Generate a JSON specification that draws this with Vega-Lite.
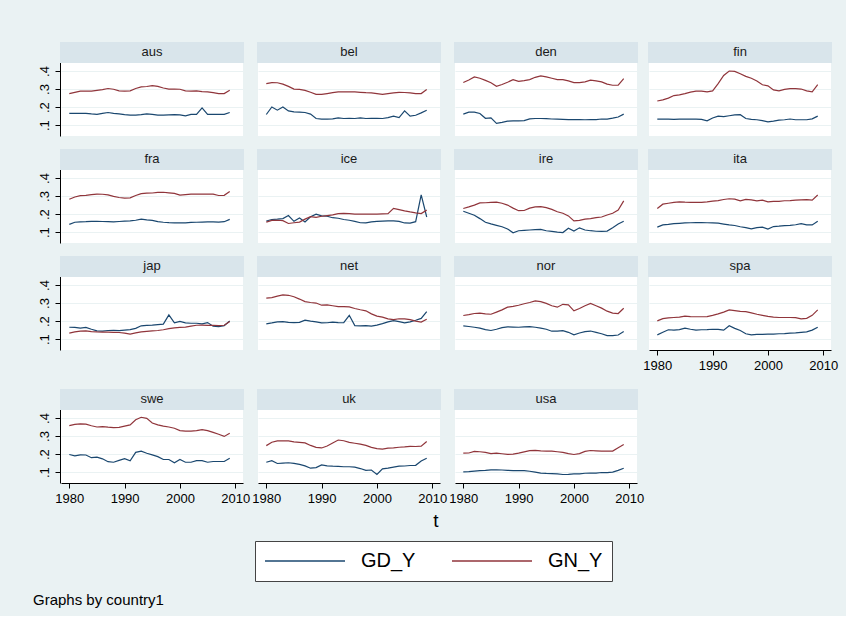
{
  "$schema": "https://vega.github.io/schema/vega-lite/v6.json",
  "background": "#EAF2F3",
  "padding": {"left": 33, "top": 42, "right": 8, "bottom": 8},
  "title": {"text": "Graphs by country1", "orient": "bottom", "anchor": "start", "fontSize": 15, "fontWeight": "normal", "font": "Liberation Sans", "color": "#000", "offset": 11, "dx": -5},
  "data": {"values": [
{"c":"aus","t":1980,"GD_Y":0.165,"GN_Y":0.275},{"c":"aus","t":1981,"GD_Y":0.165,"GN_Y":0.282},{"c":"aus","t":1982,"GD_Y":0.165,"GN_Y":0.288},{"c":"aus","t":1983,"GD_Y":0.165,"GN_Y":0.288},{"c":"aus","t":1984,"GD_Y":0.162,"GN_Y":0.288},{"c":"aus","t":1985,"GD_Y":0.16,"GN_Y":0.293},{"c":"aus","t":1986,"GD_Y":0.165,"GN_Y":0.297},{"c":"aus","t":1987,"GD_Y":0.17,"GN_Y":0.303},{"c":"aus","t":1988,"GD_Y":0.165,"GN_Y":0.299},{"c":"aus","t":1989,"GD_Y":0.162,"GN_Y":0.29},{"c":"aus","t":1990,"GD_Y":0.158,"GN_Y":0.288},{"c":"aus","t":1991,"GD_Y":0.156,"GN_Y":0.29},{"c":"aus","t":1992,"GD_Y":0.156,"GN_Y":0.303},{"c":"aus","t":1993,"GD_Y":0.158,"GN_Y":0.312},{"c":"aus","t":1994,"GD_Y":0.163,"GN_Y":0.314},{"c":"aus","t":1995,"GD_Y":0.16,"GN_Y":0.319},{"c":"aus","t":1996,"GD_Y":0.156,"GN_Y":0.315},{"c":"aus","t":1997,"GD_Y":0.156,"GN_Y":0.306},{"c":"aus","t":1998,"GD_Y":0.157,"GN_Y":0.3},{"c":"aus","t":1999,"GD_Y":0.158,"GN_Y":0.3},{"c":"aus","t":2000,"GD_Y":0.157,"GN_Y":0.299},{"c":"aus","t":2001,"GD_Y":0.152,"GN_Y":0.29},{"c":"aus","t":2002,"GD_Y":0.16,"GN_Y":0.288},{"c":"aus","t":2003,"GD_Y":0.16,"GN_Y":0.29},{"c":"aus","t":2004,"GD_Y":0.196,"GN_Y":0.286},{"c":"aus","t":2005,"GD_Y":0.16,"GN_Y":0.284},{"c":"aus","t":2006,"GD_Y":0.16,"GN_Y":0.28},{"c":"aus","t":2007,"GD_Y":0.16,"GN_Y":0.275},{"c":"aus","t":2008,"GD_Y":0.16,"GN_Y":0.275},{"c":"aus","t":2009,"GD_Y":0.17,"GN_Y":0.293},
{"c":"bel","t":1980,"GD_Y":0.159,"GN_Y":0.33},{"c":"bel","t":1981,"GD_Y":0.201,"GN_Y":0.336},{"c":"bel","t":1982,"GD_Y":0.183,"GN_Y":0.335},{"c":"bel","t":1983,"GD_Y":0.201,"GN_Y":0.327},{"c":"bel","t":1984,"GD_Y":0.179,"GN_Y":0.315},{"c":"bel","t":1985,"GD_Y":0.174,"GN_Y":0.3},{"c":"bel","t":1986,"GD_Y":0.172,"GN_Y":0.298},{"c":"bel","t":1987,"GD_Y":0.17,"GN_Y":0.293},{"c":"bel","t":1988,"GD_Y":0.161,"GN_Y":0.282},{"c":"bel","t":1989,"GD_Y":0.137,"GN_Y":0.271},{"c":"bel","t":1990,"GD_Y":0.133,"GN_Y":0.27},{"c":"bel","t":1991,"GD_Y":0.133,"GN_Y":0.275},{"c":"bel","t":1992,"GD_Y":0.135,"GN_Y":0.28},{"c":"bel","t":1993,"GD_Y":0.14,"GN_Y":0.284},{"c":"bel","t":1994,"GD_Y":0.137,"GN_Y":0.284},{"c":"bel","t":1995,"GD_Y":0.138,"GN_Y":0.284},{"c":"bel","t":1996,"GD_Y":0.137,"GN_Y":0.284},{"c":"bel","t":1997,"GD_Y":0.14,"GN_Y":0.282},{"c":"bel","t":1998,"GD_Y":0.137,"GN_Y":0.28},{"c":"bel","t":1999,"GD_Y":0.138,"GN_Y":0.279},{"c":"bel","t":2000,"GD_Y":0.138,"GN_Y":0.275},{"c":"bel","t":2001,"GD_Y":0.137,"GN_Y":0.271},{"c":"bel","t":2002,"GD_Y":0.142,"GN_Y":0.275},{"c":"bel","t":2003,"GD_Y":0.15,"GN_Y":0.279},{"c":"bel","t":2004,"GD_Y":0.142,"GN_Y":0.282},{"c":"bel","t":2005,"GD_Y":0.179,"GN_Y":0.281},{"c":"bel","t":2006,"GD_Y":0.15,"GN_Y":0.279},{"c":"bel","t":2007,"GD_Y":0.155,"GN_Y":0.275},{"c":"bel","t":2008,"GD_Y":0.168,"GN_Y":0.275},{"c":"bel","t":2009,"GD_Y":0.183,"GN_Y":0.297},
{"c":"den","t":1980,"GD_Y":0.161,"GN_Y":0.336},{"c":"den","t":1981,"GD_Y":0.172,"GN_Y":0.35},{"c":"den","t":1982,"GD_Y":0.172,"GN_Y":0.367},{"c":"den","t":1983,"GD_Y":0.165,"GN_Y":0.36},{"c":"den","t":1984,"GD_Y":0.138,"GN_Y":0.348},{"c":"den","t":1985,"GD_Y":0.14,"GN_Y":0.335},{"c":"den","t":1986,"GD_Y":0.11,"GN_Y":0.315},{"c":"den","t":1987,"GD_Y":0.115,"GN_Y":0.325},{"c":"den","t":1988,"GD_Y":0.122,"GN_Y":0.338},{"c":"den","t":1989,"GD_Y":0.124,"GN_Y":0.352},{"c":"den","t":1990,"GD_Y":0.124,"GN_Y":0.343},{"c":"den","t":1991,"GD_Y":0.125,"GN_Y":0.347},{"c":"den","t":1992,"GD_Y":0.135,"GN_Y":0.352},{"c":"den","t":1993,"GD_Y":0.137,"GN_Y":0.365},{"c":"den","t":1994,"GD_Y":0.137,"GN_Y":0.373},{"c":"den","t":1995,"GD_Y":0.136,"GN_Y":0.367},{"c":"den","t":1996,"GD_Y":0.134,"GN_Y":0.36},{"c":"den","t":1997,"GD_Y":0.133,"GN_Y":0.352},{"c":"den","t":1998,"GD_Y":0.132,"GN_Y":0.352},{"c":"den","t":1999,"GD_Y":0.131,"GN_Y":0.345},{"c":"den","t":2000,"GD_Y":0.131,"GN_Y":0.336},{"c":"den","t":2001,"GD_Y":0.131,"GN_Y":0.336},{"c":"den","t":2002,"GD_Y":0.13,"GN_Y":0.34},{"c":"den","t":2003,"GD_Y":0.131,"GN_Y":0.349},{"c":"den","t":2004,"GD_Y":0.131,"GN_Y":0.345},{"c":"den","t":2005,"GD_Y":0.134,"GN_Y":0.34},{"c":"den","t":2006,"GD_Y":0.134,"GN_Y":0.327},{"c":"den","t":2007,"GD_Y":0.139,"GN_Y":0.321},{"c":"den","t":2008,"GD_Y":0.145,"GN_Y":0.321},{"c":"den","t":2009,"GD_Y":0.161,"GN_Y":0.358},
{"c":"fin","t":1980,"GD_Y":0.133,"GN_Y":0.234},{"c":"fin","t":1981,"GD_Y":0.133,"GN_Y":0.24},{"c":"fin","t":1982,"GD_Y":0.133,"GN_Y":0.25},{"c":"fin","t":1983,"GD_Y":0.132,"GN_Y":0.264},{"c":"fin","t":1984,"GD_Y":0.133,"GN_Y":0.268},{"c":"fin","t":1985,"GD_Y":0.133,"GN_Y":0.275},{"c":"fin","t":1986,"GD_Y":0.133,"GN_Y":0.283},{"c":"fin","t":1987,"GD_Y":0.133,"GN_Y":0.288},{"c":"fin","t":1988,"GD_Y":0.132,"GN_Y":0.288},{"c":"fin","t":1989,"GD_Y":0.124,"GN_Y":0.284},{"c":"fin","t":1990,"GD_Y":0.14,"GN_Y":0.29},{"c":"fin","t":1991,"GD_Y":0.15,"GN_Y":0.33},{"c":"fin","t":1992,"GD_Y":0.147,"GN_Y":0.375},{"c":"fin","t":1993,"GD_Y":0.152,"GN_Y":0.4},{"c":"fin","t":1994,"GD_Y":0.157,"GN_Y":0.398},{"c":"fin","t":1995,"GD_Y":0.158,"GN_Y":0.385},{"c":"fin","t":1996,"GD_Y":0.137,"GN_Y":0.37},{"c":"fin","t":1997,"GD_Y":0.132,"GN_Y":0.36},{"c":"fin","t":1998,"GD_Y":0.13,"GN_Y":0.345},{"c":"fin","t":1999,"GD_Y":0.125,"GN_Y":0.324},{"c":"fin","t":2000,"GD_Y":0.118,"GN_Y":0.318},{"c":"fin","t":2001,"GD_Y":0.122,"GN_Y":0.295},{"c":"fin","t":2002,"GD_Y":0.128,"GN_Y":0.29},{"c":"fin","t":2003,"GD_Y":0.13,"GN_Y":0.298},{"c":"fin","t":2004,"GD_Y":0.134,"GN_Y":0.302},{"c":"fin","t":2005,"GD_Y":0.13,"GN_Y":0.302},{"c":"fin","t":2006,"GD_Y":0.13,"GN_Y":0.3},{"c":"fin","t":2007,"GD_Y":0.13,"GN_Y":0.29},{"c":"fin","t":2008,"GD_Y":0.135,"GN_Y":0.285},{"c":"fin","t":2009,"GD_Y":0.15,"GN_Y":0.325},
{"c":"fra","t":1980,"GD_Y":0.143,"GN_Y":0.282},{"c":"fra","t":1981,"GD_Y":0.155,"GN_Y":0.295},{"c":"fra","t":1982,"GD_Y":0.157,"GN_Y":0.302},{"c":"fra","t":1983,"GD_Y":0.158,"GN_Y":0.304},{"c":"fra","t":1984,"GD_Y":0.16,"GN_Y":0.308},{"c":"fra","t":1985,"GD_Y":0.16,"GN_Y":0.311},{"c":"fra","t":1986,"GD_Y":0.159,"GN_Y":0.31},{"c":"fra","t":1987,"GD_Y":0.158,"GN_Y":0.306},{"c":"fra","t":1988,"GD_Y":0.157,"GN_Y":0.298},{"c":"fra","t":1989,"GD_Y":0.159,"GN_Y":0.292},{"c":"fra","t":1990,"GD_Y":0.161,"GN_Y":0.288},{"c":"fra","t":1991,"GD_Y":0.163,"GN_Y":0.29},{"c":"fra","t":1992,"GD_Y":0.166,"GN_Y":0.303},{"c":"fra","t":1993,"GD_Y":0.172,"GN_Y":0.313},{"c":"fra","t":1994,"GD_Y":0.168,"GN_Y":0.316},{"c":"fra","t":1995,"GD_Y":0.165,"GN_Y":0.317},{"c":"fra","t":1996,"GD_Y":0.158,"GN_Y":0.32},{"c":"fra","t":1997,"GD_Y":0.155,"GN_Y":0.321},{"c":"fra","t":1998,"GD_Y":0.153,"GN_Y":0.318},{"c":"fra","t":1999,"GD_Y":0.152,"GN_Y":0.315},{"c":"fra","t":2000,"GD_Y":0.152,"GN_Y":0.305},{"c":"fra","t":2001,"GD_Y":0.152,"GN_Y":0.308},{"c":"fra","t":2002,"GD_Y":0.154,"GN_Y":0.311},{"c":"fra","t":2003,"GD_Y":0.155,"GN_Y":0.311},{"c":"fra","t":2004,"GD_Y":0.156,"GN_Y":0.311},{"c":"fra","t":2005,"GD_Y":0.157,"GN_Y":0.311},{"c":"fra","t":2006,"GD_Y":0.157,"GN_Y":0.311},{"c":"fra","t":2007,"GD_Y":0.156,"GN_Y":0.303},{"c":"fra","t":2008,"GD_Y":0.158,"GN_Y":0.304},{"c":"fra","t":2009,"GD_Y":0.171,"GN_Y":0.325},
{"c":"ice","t":1980,"GD_Y":0.162,"GN_Y":0.156},{"c":"ice","t":1981,"GD_Y":0.17,"GN_Y":0.165},{"c":"ice","t":1982,"GD_Y":0.172,"GN_Y":0.166},{"c":"ice","t":1983,"GD_Y":0.175,"GN_Y":0.164},{"c":"ice","t":1984,"GD_Y":0.192,"GN_Y":0.148},{"c":"ice","t":1985,"GD_Y":0.16,"GN_Y":0.152},{"c":"ice","t":1986,"GD_Y":0.178,"GN_Y":0.156},{"c":"ice","t":1987,"GD_Y":0.156,"GN_Y":0.172},{"c":"ice","t":1988,"GD_Y":0.185,"GN_Y":0.186},{"c":"ice","t":1989,"GD_Y":0.2,"GN_Y":0.182},{"c":"ice","t":1990,"GD_Y":0.19,"GN_Y":0.188},{"c":"ice","t":1991,"GD_Y":0.188,"GN_Y":0.192},{"c":"ice","t":1992,"GD_Y":0.18,"GN_Y":0.196},{"c":"ice","t":1993,"GD_Y":0.177,"GN_Y":0.203},{"c":"ice","t":1994,"GD_Y":0.17,"GN_Y":0.204},{"c":"ice","t":1995,"GD_Y":0.166,"GN_Y":0.203},{"c":"ice","t":1996,"GD_Y":0.16,"GN_Y":0.2},{"c":"ice","t":1997,"GD_Y":0.152,"GN_Y":0.2},{"c":"ice","t":1998,"GD_Y":0.151,"GN_Y":0.2},{"c":"ice","t":1999,"GD_Y":0.157,"GN_Y":0.2},{"c":"ice","t":2000,"GD_Y":0.16,"GN_Y":0.2},{"c":"ice","t":2001,"GD_Y":0.161,"GN_Y":0.201},{"c":"ice","t":2002,"GD_Y":0.162,"GN_Y":0.202},{"c":"ice","t":2003,"GD_Y":0.162,"GN_Y":0.232},{"c":"ice","t":2004,"GD_Y":0.16,"GN_Y":0.225},{"c":"ice","t":2005,"GD_Y":0.151,"GN_Y":0.218},{"c":"ice","t":2006,"GD_Y":0.15,"GN_Y":0.212},{"c":"ice","t":2007,"GD_Y":0.158,"GN_Y":0.207},{"c":"ice","t":2008,"GD_Y":0.306,"GN_Y":0.203},{"c":"ice","t":2009,"GD_Y":0.184,"GN_Y":0.222},
{"c":"ire","t":1980,"GD_Y":0.216,"GN_Y":0.231},{"c":"ire","t":1981,"GD_Y":0.205,"GN_Y":0.24},{"c":"ire","t":1982,"GD_Y":0.194,"GN_Y":0.25},{"c":"ire","t":1983,"GD_Y":0.175,"GN_Y":0.262},{"c":"ire","t":1984,"GD_Y":0.155,"GN_Y":0.263},{"c":"ire","t":1985,"GD_Y":0.146,"GN_Y":0.265},{"c":"ire","t":1986,"GD_Y":0.138,"GN_Y":0.266},{"c":"ire","t":1987,"GD_Y":0.13,"GN_Y":0.26},{"c":"ire","t":1988,"GD_Y":0.118,"GN_Y":0.25},{"c":"ire","t":1989,"GD_Y":0.097,"GN_Y":0.233},{"c":"ire","t":1990,"GD_Y":0.108,"GN_Y":0.219},{"c":"ire","t":1991,"GD_Y":0.11,"GN_Y":0.22},{"c":"ire","t":1992,"GD_Y":0.112,"GN_Y":0.233},{"c":"ire","t":1993,"GD_Y":0.114,"GN_Y":0.24},{"c":"ire","t":1994,"GD_Y":0.115,"GN_Y":0.241},{"c":"ire","t":1995,"GD_Y":0.108,"GN_Y":0.236},{"c":"ire","t":1996,"GD_Y":0.104,"GN_Y":0.226},{"c":"ire","t":1997,"GD_Y":0.1,"GN_Y":0.213},{"c":"ire","t":1998,"GD_Y":0.098,"GN_Y":0.205},{"c":"ire","t":1999,"GD_Y":0.122,"GN_Y":0.19},{"c":"ire","t":2000,"GD_Y":0.106,"GN_Y":0.162},{"c":"ire","t":2001,"GD_Y":0.124,"GN_Y":0.165},{"c":"ire","t":2002,"GD_Y":0.112,"GN_Y":0.172},{"c":"ire","t":2003,"GD_Y":0.108,"GN_Y":0.175},{"c":"ire","t":2004,"GD_Y":0.105,"GN_Y":0.18},{"c":"ire","t":2005,"GD_Y":0.104,"GN_Y":0.184},{"c":"ire","t":2006,"GD_Y":0.106,"GN_Y":0.195},{"c":"ire","t":2007,"GD_Y":0.125,"GN_Y":0.205},{"c":"ire","t":2008,"GD_Y":0.145,"GN_Y":0.222},{"c":"ire","t":2009,"GD_Y":0.16,"GN_Y":0.273},
{"c":"ita","t":1980,"GD_Y":0.128,"GN_Y":0.231},{"c":"ita","t":1981,"GD_Y":0.14,"GN_Y":0.255},{"c":"ita","t":1982,"GD_Y":0.143,"GN_Y":0.26},{"c":"ita","t":1983,"GD_Y":0.147,"GN_Y":0.265},{"c":"ita","t":1984,"GD_Y":0.149,"GN_Y":0.268},{"c":"ita","t":1985,"GD_Y":0.151,"GN_Y":0.266},{"c":"ita","t":1986,"GD_Y":0.152,"GN_Y":0.265},{"c":"ita","t":1987,"GD_Y":0.153,"GN_Y":0.265},{"c":"ita","t":1988,"GD_Y":0.153,"GN_Y":0.265},{"c":"ita","t":1989,"GD_Y":0.152,"GN_Y":0.268},{"c":"ita","t":1990,"GD_Y":0.151,"GN_Y":0.272},{"c":"ita","t":1991,"GD_Y":0.15,"GN_Y":0.275},{"c":"ita","t":1992,"GD_Y":0.145,"GN_Y":0.281},{"c":"ita","t":1993,"GD_Y":0.14,"GN_Y":0.285},{"c":"ita","t":1994,"GD_Y":0.137,"GN_Y":0.283},{"c":"ita","t":1995,"GD_Y":0.13,"GN_Y":0.273},{"c":"ita","t":1996,"GD_Y":0.125,"GN_Y":0.281},{"c":"ita","t":1997,"GD_Y":0.118,"GN_Y":0.279},{"c":"ita","t":1998,"GD_Y":0.125,"GN_Y":0.273},{"c":"ita","t":1999,"GD_Y":0.128,"GN_Y":0.277},{"c":"ita","t":2000,"GD_Y":0.117,"GN_Y":0.268},{"c":"ita","t":2001,"GD_Y":0.131,"GN_Y":0.27},{"c":"ita","t":2002,"GD_Y":0.133,"GN_Y":0.271},{"c":"ita","t":2003,"GD_Y":0.136,"GN_Y":0.274},{"c":"ita","t":2004,"GD_Y":0.138,"GN_Y":0.275},{"c":"ita","t":2005,"GD_Y":0.141,"GN_Y":0.277},{"c":"ita","t":2006,"GD_Y":0.147,"GN_Y":0.279},{"c":"ita","t":2007,"GD_Y":0.14,"GN_Y":0.28},{"c":"ita","t":2008,"GD_Y":0.14,"GN_Y":0.277},{"c":"ita","t":2009,"GD_Y":0.16,"GN_Y":0.306},
{"c":"jap","t":1980,"GD_Y":0.166,"GN_Y":0.133},{"c":"jap","t":1981,"GD_Y":0.165,"GN_Y":0.14},{"c":"jap","t":1982,"GD_Y":0.161,"GN_Y":0.145},{"c":"jap","t":1983,"GD_Y":0.165,"GN_Y":0.146},{"c":"jap","t":1984,"GD_Y":0.155,"GN_Y":0.142},{"c":"jap","t":1985,"GD_Y":0.146,"GN_Y":0.14},{"c":"jap","t":1986,"GD_Y":0.145,"GN_Y":0.139},{"c":"jap","t":1987,"GD_Y":0.148,"GN_Y":0.139},{"c":"jap","t":1988,"GD_Y":0.149,"GN_Y":0.138},{"c":"jap","t":1989,"GD_Y":0.147,"GN_Y":0.137},{"c":"jap","t":1990,"GD_Y":0.15,"GN_Y":0.133},{"c":"jap","t":1991,"GD_Y":0.153,"GN_Y":0.128},{"c":"jap","t":1992,"GD_Y":0.16,"GN_Y":0.135},{"c":"jap","t":1993,"GD_Y":0.174,"GN_Y":0.14},{"c":"jap","t":1994,"GD_Y":0.176,"GN_Y":0.143},{"c":"jap","t":1995,"GD_Y":0.178,"GN_Y":0.146},{"c":"jap","t":1996,"GD_Y":0.181,"GN_Y":0.148},{"c":"jap","t":1997,"GD_Y":0.183,"GN_Y":0.152},{"c":"jap","t":1998,"GD_Y":0.234,"GN_Y":0.158},{"c":"jap","t":1999,"GD_Y":0.19,"GN_Y":0.163},{"c":"jap","t":2000,"GD_Y":0.198,"GN_Y":0.165},{"c":"jap","t":2001,"GD_Y":0.19,"GN_Y":0.167},{"c":"jap","t":2002,"GD_Y":0.188,"GN_Y":0.172},{"c":"jap","t":2003,"GD_Y":0.188,"GN_Y":0.177},{"c":"jap","t":2004,"GD_Y":0.185,"GN_Y":0.178},{"c":"jap","t":2005,"GD_Y":0.192,"GN_Y":0.176},{"c":"jap","t":2006,"GD_Y":0.172,"GN_Y":0.177},{"c":"jap","t":2007,"GD_Y":0.17,"GN_Y":0.175},{"c":"jap","t":2008,"GD_Y":0.174,"GN_Y":0.177},{"c":"jap","t":2009,"GD_Y":0.201,"GN_Y":0.198},
{"c":"net","t":1980,"GD_Y":0.185,"GN_Y":0.327},{"c":"net","t":1981,"GD_Y":0.19,"GN_Y":0.33},{"c":"net","t":1982,"GD_Y":0.196,"GN_Y":0.338},{"c":"net","t":1983,"GD_Y":0.197,"GN_Y":0.345},{"c":"net","t":1984,"GD_Y":0.193,"GN_Y":0.343},{"c":"net","t":1985,"GD_Y":0.192,"GN_Y":0.335},{"c":"net","t":1986,"GD_Y":0.193,"GN_Y":0.322},{"c":"net","t":1987,"GD_Y":0.205,"GN_Y":0.308},{"c":"net","t":1988,"GD_Y":0.2,"GN_Y":0.303},{"c":"net","t":1989,"GD_Y":0.196,"GN_Y":0.3},{"c":"net","t":1990,"GD_Y":0.19,"GN_Y":0.288},{"c":"net","t":1991,"GD_Y":0.191,"GN_Y":0.29},{"c":"net","t":1992,"GD_Y":0.194,"GN_Y":0.285},{"c":"net","t":1993,"GD_Y":0.192,"GN_Y":0.28},{"c":"net","t":1994,"GD_Y":0.191,"GN_Y":0.28},{"c":"net","t":1995,"GD_Y":0.232,"GN_Y":0.279},{"c":"net","t":1996,"GD_Y":0.175,"GN_Y":0.27},{"c":"net","t":1997,"GD_Y":0.174,"GN_Y":0.263},{"c":"net","t":1998,"GD_Y":0.175,"GN_Y":0.257},{"c":"net","t":1999,"GD_Y":0.172,"GN_Y":0.24},{"c":"net","t":2000,"GD_Y":0.178,"GN_Y":0.228},{"c":"net","t":2001,"GD_Y":0.186,"GN_Y":0.222},{"c":"net","t":2002,"GD_Y":0.196,"GN_Y":0.212},{"c":"net","t":2003,"GD_Y":0.203,"GN_Y":0.208},{"c":"net","t":2004,"GD_Y":0.197,"GN_Y":0.213},{"c":"net","t":2005,"GD_Y":0.19,"GN_Y":0.212},{"c":"net","t":2006,"GD_Y":0.196,"GN_Y":0.208},{"c":"net","t":2007,"GD_Y":0.205,"GN_Y":0.2},{"c":"net","t":2008,"GD_Y":0.215,"GN_Y":0.195},{"c":"net","t":2009,"GD_Y":0.253,"GN_Y":0.21},
{"c":"nor","t":1980,"GD_Y":0.174,"GN_Y":0.231},{"c":"nor","t":1981,"GD_Y":0.17,"GN_Y":0.236},{"c":"nor","t":1982,"GD_Y":0.166,"GN_Y":0.242},{"c":"nor","t":1983,"GD_Y":0.161,"GN_Y":0.244},{"c":"nor","t":1984,"GD_Y":0.153,"GN_Y":0.24},{"c":"nor","t":1985,"GD_Y":0.148,"GN_Y":0.238},{"c":"nor","t":1986,"GD_Y":0.155,"GN_Y":0.25},{"c":"nor","t":1987,"GD_Y":0.164,"GN_Y":0.262},{"c":"nor","t":1988,"GD_Y":0.168,"GN_Y":0.277},{"c":"nor","t":1989,"GD_Y":0.167,"GN_Y":0.282},{"c":"nor","t":1990,"GD_Y":0.166,"GN_Y":0.288},{"c":"nor","t":1991,"GD_Y":0.168,"GN_Y":0.296},{"c":"nor","t":1992,"GD_Y":0.169,"GN_Y":0.303},{"c":"nor","t":1993,"GD_Y":0.166,"GN_Y":0.312},{"c":"nor","t":1994,"GD_Y":0.161,"GN_Y":0.308},{"c":"nor","t":1995,"GD_Y":0.155,"GN_Y":0.298},{"c":"nor","t":1996,"GD_Y":0.144,"GN_Y":0.285},{"c":"nor","t":1997,"GD_Y":0.144,"GN_Y":0.277},{"c":"nor","t":1998,"GD_Y":0.147,"GN_Y":0.293},{"c":"nor","t":1999,"GD_Y":0.138,"GN_Y":0.29},{"c":"nor","t":2000,"GD_Y":0.124,"GN_Y":0.257},{"c":"nor","t":2001,"GD_Y":0.134,"GN_Y":0.27},{"c":"nor","t":2002,"GD_Y":0.142,"GN_Y":0.285},{"c":"nor","t":2003,"GD_Y":0.145,"GN_Y":0.298},{"c":"nor","t":2004,"GD_Y":0.138,"GN_Y":0.285},{"c":"nor","t":2005,"GD_Y":0.13,"GN_Y":0.272},{"c":"nor","t":2006,"GD_Y":0.12,"GN_Y":0.255},{"c":"nor","t":2007,"GD_Y":0.12,"GN_Y":0.244},{"c":"nor","t":2008,"GD_Y":0.123,"GN_Y":0.242},{"c":"nor","t":2009,"GD_Y":0.142,"GN_Y":0.271},
{"c":"spa","t":1980,"GD_Y":0.124,"GN_Y":0.201},{"c":"spa","t":1981,"GD_Y":0.138,"GN_Y":0.214},{"c":"spa","t":1982,"GD_Y":0.152,"GN_Y":0.218},{"c":"spa","t":1983,"GD_Y":0.15,"GN_Y":0.22},{"c":"spa","t":1984,"GD_Y":0.153,"GN_Y":0.222},{"c":"spa","t":1985,"GD_Y":0.161,"GN_Y":0.228},{"c":"spa","t":1986,"GD_Y":0.155,"GN_Y":0.225},{"c":"spa","t":1987,"GD_Y":0.15,"GN_Y":0.224},{"c":"spa","t":1988,"GD_Y":0.152,"GN_Y":0.224},{"c":"spa","t":1989,"GD_Y":0.153,"GN_Y":0.225},{"c":"spa","t":1990,"GD_Y":0.155,"GN_Y":0.232},{"c":"spa","t":1991,"GD_Y":0.154,"GN_Y":0.24},{"c":"spa","t":1992,"GD_Y":0.15,"GN_Y":0.25},{"c":"spa","t":1993,"GD_Y":0.174,"GN_Y":0.262},{"c":"spa","t":1994,"GD_Y":0.16,"GN_Y":0.258},{"c":"spa","t":1995,"GD_Y":0.148,"GN_Y":0.254},{"c":"spa","t":1996,"GD_Y":0.13,"GN_Y":0.252},{"c":"spa","t":1997,"GD_Y":0.124,"GN_Y":0.246},{"c":"spa","t":1998,"GD_Y":0.126,"GN_Y":0.238},{"c":"spa","t":1999,"GD_Y":0.127,"GN_Y":0.232},{"c":"spa","t":2000,"GD_Y":0.128,"GN_Y":0.226},{"c":"spa","t":2001,"GD_Y":0.128,"GN_Y":0.222},{"c":"spa","t":2002,"GD_Y":0.13,"GN_Y":0.22},{"c":"spa","t":2003,"GD_Y":0.131,"GN_Y":0.22},{"c":"spa","t":2004,"GD_Y":0.133,"GN_Y":0.22},{"c":"spa","t":2005,"GD_Y":0.135,"GN_Y":0.219},{"c":"spa","t":2006,"GD_Y":0.138,"GN_Y":0.212},{"c":"spa","t":2007,"GD_Y":0.14,"GN_Y":0.215},{"c":"spa","t":2008,"GD_Y":0.15,"GN_Y":0.232},{"c":"spa","t":2009,"GD_Y":0.166,"GN_Y":0.262},
{"c":"swe","t":1980,"GD_Y":0.198,"GN_Y":0.358},{"c":"swe","t":1981,"GD_Y":0.19,"GN_Y":0.365},{"c":"swe","t":1982,"GD_Y":0.196,"GN_Y":0.367},{"c":"swe","t":1983,"GD_Y":0.195,"GN_Y":0.366},{"c":"swe","t":1984,"GD_Y":0.18,"GN_Y":0.357},{"c":"swe","t":1985,"GD_Y":0.183,"GN_Y":0.35},{"c":"swe","t":1986,"GD_Y":0.174,"GN_Y":0.352},{"c":"swe","t":1987,"GD_Y":0.158,"GN_Y":0.349},{"c":"swe","t":1988,"GD_Y":0.155,"GN_Y":0.347},{"c":"swe","t":1989,"GD_Y":0.165,"GN_Y":0.348},{"c":"swe","t":1990,"GD_Y":0.175,"GN_Y":0.355},{"c":"swe","t":1991,"GD_Y":0.163,"GN_Y":0.362},{"c":"swe","t":1992,"GD_Y":0.21,"GN_Y":0.39},{"c":"swe","t":1993,"GD_Y":0.216,"GN_Y":0.404},{"c":"swe","t":1994,"GD_Y":0.205,"GN_Y":0.398},{"c":"swe","t":1995,"GD_Y":0.196,"GN_Y":0.372},{"c":"swe","t":1996,"GD_Y":0.186,"GN_Y":0.362},{"c":"swe","t":1997,"GD_Y":0.17,"GN_Y":0.355},{"c":"swe","t":1998,"GD_Y":0.17,"GN_Y":0.35},{"c":"swe","t":1999,"GD_Y":0.152,"GN_Y":0.343},{"c":"swe","t":2000,"GD_Y":0.17,"GN_Y":0.33},{"c":"swe","t":2001,"GD_Y":0.155,"GN_Y":0.327},{"c":"swe","t":2002,"GD_Y":0.155,"GN_Y":0.327},{"c":"swe","t":2003,"GD_Y":0.164,"GN_Y":0.33},{"c":"swe","t":2004,"GD_Y":0.164,"GN_Y":0.336},{"c":"swe","t":2005,"GD_Y":0.155,"GN_Y":0.33},{"c":"swe","t":2006,"GD_Y":0.159,"GN_Y":0.32},{"c":"swe","t":2007,"GD_Y":0.159,"GN_Y":0.31},{"c":"swe","t":2008,"GD_Y":0.159,"GN_Y":0.298},{"c":"swe","t":2009,"GD_Y":0.177,"GN_Y":0.316},
{"c":"uk","t":1980,"GD_Y":0.155,"GN_Y":0.247},{"c":"uk","t":1981,"GD_Y":0.164,"GN_Y":0.266},{"c":"uk","t":1982,"GD_Y":0.148,"GN_Y":0.273},{"c":"uk","t":1983,"GD_Y":0.15,"GN_Y":0.274},{"c":"uk","t":1984,"GD_Y":0.152,"GN_Y":0.273},{"c":"uk","t":1985,"GD_Y":0.149,"GN_Y":0.268},{"c":"uk","t":1986,"GD_Y":0.143,"GN_Y":0.265},{"c":"uk","t":1987,"GD_Y":0.135,"GN_Y":0.262},{"c":"uk","t":1988,"GD_Y":0.122,"GN_Y":0.248},{"c":"uk","t":1989,"GD_Y":0.125,"GN_Y":0.237},{"c":"uk","t":1990,"GD_Y":0.14,"GN_Y":0.234},{"c":"uk","t":1991,"GD_Y":0.135,"GN_Y":0.245},{"c":"uk","t":1992,"GD_Y":0.133,"GN_Y":0.262},{"c":"uk","t":1993,"GD_Y":0.132,"GN_Y":0.278},{"c":"uk","t":1994,"GD_Y":0.13,"GN_Y":0.274},{"c":"uk","t":1995,"GD_Y":0.13,"GN_Y":0.265},{"c":"uk","t":1996,"GD_Y":0.128,"GN_Y":0.26},{"c":"uk","t":1997,"GD_Y":0.12,"GN_Y":0.255},{"c":"uk","t":1998,"GD_Y":0.11,"GN_Y":0.248},{"c":"uk","t":1999,"GD_Y":0.112,"GN_Y":0.237},{"c":"uk","t":2000,"GD_Y":0.087,"GN_Y":0.23},{"c":"uk","t":2001,"GD_Y":0.118,"GN_Y":0.228},{"c":"uk","t":2002,"GD_Y":0.122,"GN_Y":0.233},{"c":"uk","t":2003,"GD_Y":0.128,"GN_Y":0.235},{"c":"uk","t":2004,"GD_Y":0.133,"GN_Y":0.238},{"c":"uk","t":2005,"GD_Y":0.134,"GN_Y":0.24},{"c":"uk","t":2006,"GD_Y":0.137,"GN_Y":0.243},{"c":"uk","t":2007,"GD_Y":0.138,"GN_Y":0.242},{"c":"uk","t":2008,"GD_Y":0.162,"GN_Y":0.244},{"c":"uk","t":2009,"GD_Y":0.177,"GN_Y":0.27},
{"c":"usa","t":1980,"GD_Y":0.102,"GN_Y":0.205},{"c":"usa","t":1981,"GD_Y":0.103,"GN_Y":0.206},{"c":"usa","t":1982,"GD_Y":0.106,"GN_Y":0.215},{"c":"usa","t":1983,"GD_Y":0.108,"GN_Y":0.213},{"c":"usa","t":1984,"GD_Y":0.11,"GN_Y":0.21},{"c":"usa","t":1985,"GD_Y":0.113,"GN_Y":0.203},{"c":"usa","t":1986,"GD_Y":0.113,"GN_Y":0.205},{"c":"usa","t":1987,"GD_Y":0.112,"GN_Y":0.202},{"c":"usa","t":1988,"GD_Y":0.11,"GN_Y":0.198},{"c":"usa","t":1989,"GD_Y":0.109,"GN_Y":0.2},{"c":"usa","t":1990,"GD_Y":0.109,"GN_Y":0.205},{"c":"usa","t":1991,"GD_Y":0.108,"GN_Y":0.212},{"c":"usa","t":1992,"GD_Y":0.105,"GN_Y":0.219},{"c":"usa","t":1993,"GD_Y":0.1,"GN_Y":0.221},{"c":"usa","t":1994,"GD_Y":0.095,"GN_Y":0.218},{"c":"usa","t":1995,"GD_Y":0.093,"GN_Y":0.216},{"c":"usa","t":1996,"GD_Y":0.092,"GN_Y":0.216},{"c":"usa","t":1997,"GD_Y":0.09,"GN_Y":0.213},{"c":"usa","t":1998,"GD_Y":0.087,"GN_Y":0.21},{"c":"usa","t":1999,"GD_Y":0.088,"GN_Y":0.203},{"c":"usa","t":2000,"GD_Y":0.09,"GN_Y":0.198},{"c":"usa","t":2001,"GD_Y":0.091,"GN_Y":0.203},{"c":"usa","t":2002,"GD_Y":0.094,"GN_Y":0.215},{"c":"usa","t":2003,"GD_Y":0.095,"GN_Y":0.22},{"c":"usa","t":2004,"GD_Y":0.095,"GN_Y":0.218},{"c":"usa","t":2005,"GD_Y":0.098,"GN_Y":0.216},{"c":"usa","t":2006,"GD_Y":0.097,"GN_Y":0.216},{"c":"usa","t":2007,"GD_Y":0.1,"GN_Y":0.217},{"c":"usa","t":2008,"GD_Y":0.11,"GN_Y":0.235},{"c":"usa","t":2009,"GD_Y":0.122,"GN_Y":0.253}
  ]},
  "spacing": 17,
  "vconcat": [
    {
      "spacing": 4,
      "hconcat": [
        {
          "bounds": "flush",
          "transform": [{"filter": {"field": "c", "oneOf": ["aus","bel","den","fra","ice","ire","jap","net","nor"]}}, {"fold": ["GD_Y", "GN_Y"], "as": ["series", "v"]}],
          "facet": {"field": "c", "type": "nominal", "title": null, "header": {"labels": false, "title": null, "labelExpr": "''", "labelFontSize": 0, "labelPadding": 0, "titlePadding": 0}},
          "columns": 3,
          "spacing": {"column": 15, "row": 14},
          "spec": {
            "width": 182, "height": 93,
            "layer": [
              {"mark": {"type": "line", "strokeWidth": 1.2, "clip": true},
               "encoding": {
                 "x": {"field": "t", "type": "quantitative", "scale": {"domain": [1978.5, 2011.4], "nice": false, "zero": false}, "axis": null},
                 "y": {"field": "v", "type": "quantitative", "scale": {"domain": [0.04, 0.555], "nice": false, "zero": false},
                       "axis": {"title": null, "values": [0.1, 0.2, 0.3, 0.4], "tickCount": 10, "labelExpr": "substring(format(datum.value, '.1f'), 1)", "labelAngle": -90, "labelAlign": "center", "labelBaseline": "bottom", "labelOverlap": false, "labelFlush": false, "labelBound": false, "grid": true, "offset": 1}},
                 "color": {"field": "series", "type": "nominal", "title": null, "scale": {"domain": ["GD_Y", "GN_Y"], "range": ["#1A476F", "#90353B"]}, "legend": {"orient": "none", "legendX": 194, "legendY": 498}}}},
              {"transform": [{"filter": "datum.t == 1980 && datum.series == 'GD_Y'"}],
               "mark": {"type": "rect", "color": "#D9E5EB", "stroke": "#D9E5EB", "strokeWidth": 2},
               "encoding": {"x": {"datum": 1978.5}, "x2": {"datum": 2011.4}, "y": {"datum": 0.45}, "y2": {"datum": 0.555}}},
              {"transform": [{"filter": "datum.t == 1980 && datum.series == 'GD_Y'"}],
               "mark": {"type": "text", "fontSize": 13, "color": "#1a1a1a", "baseline": "middle", "align": "center"},
               "encoding": {"x": {"datum": 1994.95}, "y": {"datum": 0.5025}, "text": {"field": "c"}}}
            ]
          }
        },
        {
          "bounds": "flush",
          "transform": [{"filter": {"field": "c", "oneOf": ["fin","ita","spa"]}}, {"fold": ["GD_Y", "GN_Y"], "as": ["series", "v"]}],
          "facet": {"field": "c", "type": "nominal", "title": null, "header": {"labels": false, "title": null, "labelExpr": "''", "labelFontSize": 0, "labelPadding": 0, "titlePadding": 0}},
          "columns": 1,
          "spacing": {"column": 15, "row": 14},
          "spec": {
            "width": 182, "height": 93,
            "layer": [
              {"mark": {"type": "line", "strokeWidth": 1.2, "clip": true},
               "encoding": {
                 "x": {"field": "t", "type": "quantitative", "scale": {"domain": [1978.5, 2011.4], "nice": false, "zero": false},
                       "axis": {"title": null, "values": [1980, 1990, 2000, 2010], "tickCount": 10, "format": "d", "grid": false, "labelFlush": false}},
                 "y": {"field": "v", "type": "quantitative", "scale": {"domain": [0.04, 0.555], "nice": false, "zero": false},
                       "axis": {"title": null, "values": [0.1, 0.2, 0.3, 0.4], "tickCount": 10, "labels": false, "ticks": false, "domain": false, "tickSize": 0, "labelPadding": 0, "grid": true}},
                 "color": {"field": "series", "type": "nominal", "title": null, "scale": {"domain": ["GD_Y", "GN_Y"], "range": ["#1A476F", "#90353B"]}, "legend": {"orient": "none", "legendX": 194, "legendY": 498}}}},
              {"transform": [{"filter": "datum.t == 1980 && datum.series == 'GD_Y'"}],
               "mark": {"type": "rect", "color": "#D9E5EB", "stroke": "#D9E5EB", "strokeWidth": 2},
               "encoding": {"x": {"datum": 1978.5}, "x2": {"datum": 2011.4}, "y": {"datum": 0.45}, "y2": {"datum": 0.555}}},
              {"transform": [{"filter": "datum.t == 1980 && datum.series == 'GD_Y'"}],
               "mark": {"type": "text", "fontSize": 13, "color": "#1a1a1a", "baseline": "middle", "align": "center"},
               "encoding": {"x": {"datum": 1994.95}, "y": {"datum": 0.5025}, "text": {"field": "c"}}}
            ]
          }
        }
      ]
    },
    {
      "bounds": "flush",
      "title": {"text": "t", "orient": "bottom", "anchor": "middle", "fontSize": 19, "fontWeight": "normal", "color": "#000", "offset": 7, "dx": 95},
      "transform": [{"filter": {"field": "c", "oneOf": ["swe","uk","usa"]}}, {"fold": ["GD_Y", "GN_Y"], "as": ["series", "v"]}],
      "facet": {"field": "c", "type": "nominal", "title": null, "header": {"labels": false, "title": null, "labelExpr": "''", "labelFontSize": 0, "labelPadding": 0, "titlePadding": 0}},
      "columns": 3,
      "spacing": {"column": 15, "row": 14},
      "spec": {
        "width": 182, "height": 93,
        "layer": [
          {"mark": {"type": "line", "strokeWidth": 1.2, "clip": true},
           "encoding": {
             "x": {"field": "t", "type": "quantitative", "scale": {"domain": [1978.5, 2011.4], "nice": false, "zero": false},
                   "axis": {"title": null, "values": [1980, 1990, 2000, 2010], "tickCount": 10, "format": "d", "grid": false, "labelFlush": false}},
             "y": {"field": "v", "type": "quantitative", "scale": {"domain": [0.04, 0.555], "nice": false, "zero": false},
                   "axis": {"title": null, "values": [0.1, 0.2, 0.3, 0.4], "tickCount": 10, "labelExpr": "substring(format(datum.value, '.1f'), 1)", "labelAngle": -90, "labelAlign": "center", "labelBaseline": "bottom", "labelOverlap": false, "labelFlush": false, "labelBound": false, "grid": true, "offset": 1}},
             "color": {"field": "series", "type": "nominal", "title": null, "scale": {"domain": ["GD_Y", "GN_Y"], "range": ["#1A476F", "#90353B"]}, "legend": {"orient": "none", "legendX": 194, "legendY": 498}}}},
          {"transform": [{"filter": "datum.t == 1980 && datum.series == 'GD_Y'"}],
           "mark": {"type": "rect", "color": "#D9E5EB", "stroke": "#D9E5EB", "strokeWidth": 2},
           "encoding": {"x": {"datum": 1978.5}, "x2": {"datum": 2011.4}, "y": {"datum": 0.45}, "y2": {"datum": 0.555}}},
          {"transform": [{"filter": "datum.t == 1980 && datum.series == 'GD_Y'"}],
           "mark": {"type": "text", "fontSize": 13, "color": "#1a1a1a", "baseline": "middle", "align": "center"},
           "encoding": {"x": {"datum": 1994.95}, "y": {"datum": 0.5025}, "text": {"field": "c"}}}
        ]
      }
    }
  ],
  "config": {
    "font": "Liberation Sans",
    "view": {"stroke": null, "fill": "white"},
    "axis": {
      "domainColor": "#000", "tickColor": "#000", "tickSize": 5, "labelColor": "#000",
      "labelFontSize": 13, "labelPadding": 4, "gridColor": "#EAF2F3", "gridWidth": 1.2, "domainWidth": 1
    },
    "header": {"labels": false, "labelFontSize": 0, "labelPadding": 0, "titlePadding": 0},
    "legend": {
      "direction": "horizontal", "fillColor": "white", "strokeColor": "#444",
      "padding": 9, "labelFontSize": 20, "labelColor": "#000", "symbolType": "stroke", "symbolSize": 6400,
      "symbolStrokeWidth": 1.5, "labelOffset": 15, "columnPadding": 35, "clipHeight": 22
    }
  }
}
